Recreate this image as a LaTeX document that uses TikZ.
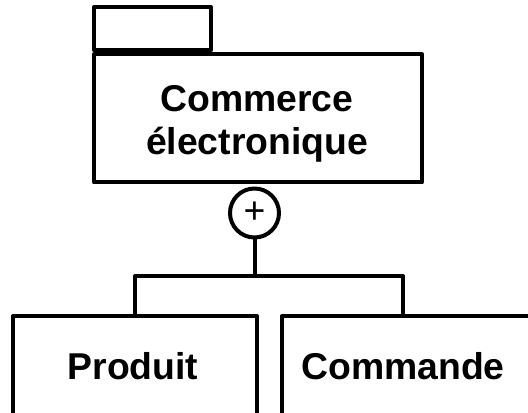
\documentclass[tikz,border=0pt]{standalone}
\usepackage{fontspec}
\setsansfont{Liberation Sans}
\usetikzlibrary{positioning}

\tikzset{every picture/.style={line width=3pt}}
\tikzset{
  box/.style={draw, line join=round, inner sep=0pt},
  title/.style={font=\sffamily\bfseries\fontsize{28}{32.25}\selectfont, inner sep=0pt, align=center},
}

\begin{document}
\begin{tikzpicture}[x=0.75pt,y=0.75pt,yscale=-1,xscale=1]
\clip (0,0) rectangle (528,413);

%Shape: Package body
\node [box, minimum width=246pt, minimum height=96pt] (pkg) at (258,118.5) {};
%Shape: Package tab
\node [box, minimum width=87.4pt, minimum height=32.6pt, anchor=south west] (tab) at (pkg.north west) {};
% Text Node
\node [title] (pkgtxt) at (257,123.7) {Commerce\\électronique};

%Shape: Circle
\node [box, circle, minimum size=36.75pt, font=\sffamily\fontsize{28}{32}\selectfont] (plus) at (254.5,213) {+};

%Shape: Rectangle
\node [box, minimum width=183pt, minimum height=97.5pt, anchor=north west] (prod) at (11,314) {};
%Shape: Rectangle
\node [box, minimum width=225pt, minimum height=97.5pt, anchor=north west] (cmd) at (280,314) {};
% Text Node
\node [title, anchor=base] (prodtxt) at (133,379) {Produit};
% Text Node
\node [title, anchor=base] (cmdtxt) at (403,379) {Commande};

%Straight Lines
\coordinate (bar) at (254.5,276);
\draw (plus.south) -- (bar);
\draw [line join=round] (prod.north) |- (bar) -| (cmdtxt |- cmd.north);

\end{tikzpicture}
\end{document}
